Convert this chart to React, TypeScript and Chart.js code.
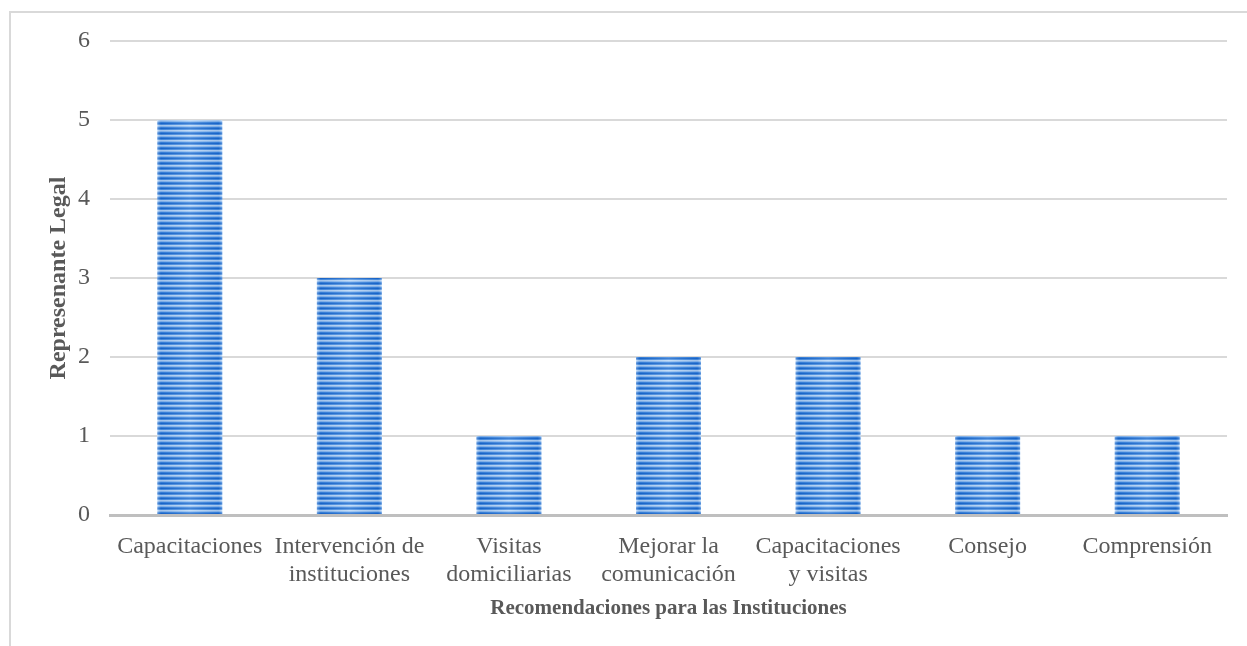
import React, { useEffect, useRef } from "react";
import { Chart, registerables } from "chart.js";

Chart.register(...registerables);

const categories: (string | string[])[] = [
  "Capacitaciones",
  ["Intervención de", "instituciones"],
  ["Visitas", "domiciliarias"],
  ["Mejorar la", "comunicación"],
  ["Capacitaciones", "y visitas"],
  "Consejo",
  "Comprensión",
];
const values = [5, 3, 1, 2, 2, 1, 1];
const yTitle = "Represenante Legal";
const xTitle = "Recomendaciones para las Instituciones";
const yMax = 6;

const FONT = "'Liberation Serif', 'Times New Roman', serif";

function makePattern(): CanvasPattern | string {
  const c = document.createElement("canvas");
  c.width = 4;
  c.height = 5;
  const g = c.getContext("2d");
  if (!g) return "#2f7ad6";
  const rows = ["#1766cc", "#4a8fe0", "#b9d7f6", "#8ebcf0", "#3a84dc"];
  rows.forEach((col, i) => {
    g.fillStyle = col;
    g.fillRect(0, i, 4, 1);
  });
  const p = g.createPattern(c, "repeat");
  return p || "#2f7ad6";
}

const sheenPlugin = {
  id: "sheen",
  afterDatasetsDraw(chart: any) {
    const ctx = chart.ctx as CanvasRenderingContext2D;
    const meta = chart.getDatasetMeta(0);
    meta.data.forEach((bar: any) => {
      const { x, y, base, width } = bar.getProps(["x", "y", "base", "width"], true);
      const left = x - width / 2;
      const grad = ctx.createLinearGradient(left, 0, left + width, 0);
      grad.addColorStop(0, "rgba(255,255,255,0.35)");
      grad.addColorStop(0.06, "rgba(20,80,170,0.15)");
      grad.addColorStop(0.5, "rgba(255,255,255,0.18)");
      grad.addColorStop(0.94, "rgba(20,80,170,0.15)");
      grad.addColorStop(1, "rgba(255,255,255,0.3)");
      ctx.save();
      ctx.fillStyle = grad;
      ctx.fillRect(left, y, width, base - y);
      ctx.restore();
    });
  },
};

export default function App() {
  const ref = useRef<HTMLCanvasElement | null>(null);

  useEffect(() => {
    document.body.style.margin = "0";
    document.body.style.overflow = "hidden";
    const canvas = ref.current;
    if (!canvas) return;
    const chart = new Chart(canvas, {
      type: "bar",
      data: {
        labels: categories,
        datasets: [
          {
            data: values,
            backgroundColor: makePattern() as any,
            borderWidth: 0,
            barPercentage: 0.407,
            categoryPercentage: 1,
          },
        ],
      },
      options: {
        animation: false,
        responsive: false,
        maintainAspectRatio: false,
        layout: { padding: { top: 28, right: 20, left: 0, bottom: 0 } },
        plugins: {
          legend: { display: false },
          tooltip: { enabled: false },
        },
        scales: {
          x: {
            grid: { display: false, drawTicks: false },
            border: { display: true, color: "#bfbfbf", width: 3 },
            ticks: {
              color: "#595959",
              font: { family: FONT, size: 24, lineHeight: 1.17 },
              padding: 18,
              maxRotation: 0,
              autoSkip: false,
            },
            title: {
              display: true,
              text: xTitle,
              color: "#595959",
              font: { family: FONT, size: 21, weight: "bold", lineHeight: 1.2 },
              padding: { top: 0, bottom: 25 },
            },
            afterFit(scale: any) {
              scale.height = 131;
              scale.paddingLeft = 0;
              scale.paddingRight = 0;
            },
          },
          y: {
            min: 0,
            max: yMax,
            grid: { color: "#d9d9d9", lineWidth: 2, drawTicks: false },
            border: { display: false },
            ticks: {
              stepSize: 1,
              color: "#595959",
              font: { family: FONT, size: 24 },
              padding: 20,
            },
            title: {
              display: true,
              text: yTitle,
              color: "#595959",
              font: { family: FONT, size: 24, weight: "bold", lineHeight: 1.2 },
              padding: { top: 33, bottom: 0 },
            },
            afterFit(scale: any) {
              scale.width = 99;
              scale.paddingTop = 0;
              scale.paddingBottom = 0;
            },
          },
        },
      },
      plugins: [sheenPlugin],
    });
    return () => chart.destroy();
  }, []);

  return (
    <div
      style={{
        position: "absolute",
        left: 9,
        top: 11,
        width: 1238,
        height: 635,
        borderTop: "2px solid #d9d9d9",
        borderLeft: "2px solid #d9d9d9",
        boxSizing: "border-box",
        background: "#fff",
      }}
    >
      <canvas ref={ref} width={1236} height={633} style={{ display: "block" }} />
    </div>
  );
}
